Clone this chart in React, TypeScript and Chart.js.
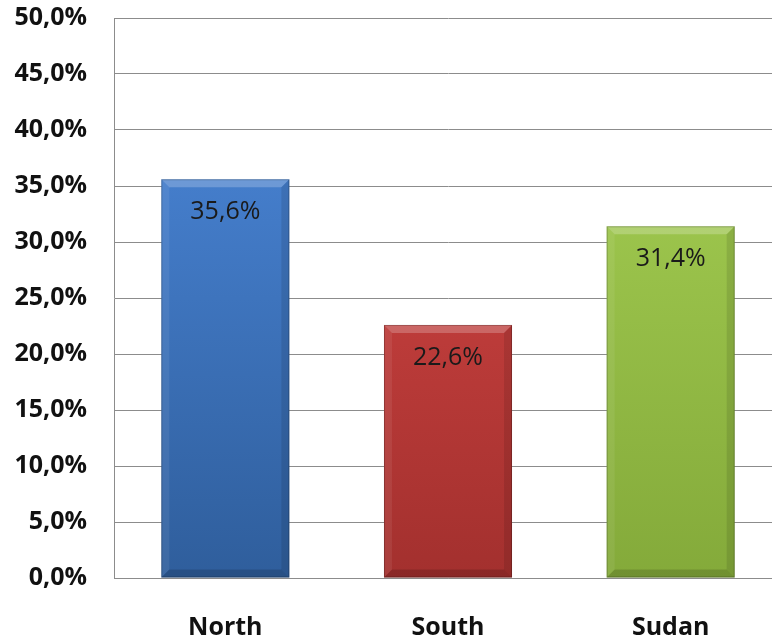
import React, { useEffect, useRef } from "react";
import { Chart, registerables } from "chart.js";

Chart.register(...registerables);

const categories = ["North", "South", "Sudan"];
const values = [35.6, 22.6, 31.4];
const topColors = ["#4d8ade", "#dc4a48", "#a9d356"];
const bottomColors = ["#2f5e9c", "#a3302e", "#84aa3a"];
const yTicks = [0, 5, 10, 15, 20, 25, 30, 35, 40, 45, 50];

const fmt = (v: number) => v.toFixed(1).replace(".", ",") + "%";

const bevelPlugin = {
  id: "bevel",
  afterDatasetsDraw(chart: any) {
    const ctx = chart.ctx;
    const meta = chart.getDatasetMeta(0);
    meta.data.forEach((bar: any, i: number) => {
      const { x, y, base, width } = bar.getProps(["x", "y", "base", "width"], true);
      const l = x - width / 2;
      const r = x + width / 2;
      const b = 8;
      ctx.save();
      ctx.fillStyle = "rgba(255,255,255,0.22)";
      ctx.beginPath();
      ctx.moveTo(l, y);
      ctx.lineTo(r, y);
      ctx.lineTo(r - b, y + b);
      ctx.lineTo(l + b, y + b);
      ctx.closePath();
      ctx.fill();
      ctx.fillStyle = "rgba(255,255,255,0.07)";
      ctx.beginPath();
      ctx.moveTo(l, y);
      ctx.lineTo(l + b, y + b);
      ctx.lineTo(l + b, base - b);
      ctx.lineTo(l, base);
      ctx.closePath();
      ctx.fill();
      ctx.fillStyle = "rgba(0,0,0,0.10)";
      ctx.beginPath();
      ctx.moveTo(r, y);
      ctx.lineTo(r - b, y + b);
      ctx.lineTo(r - b, base - b);
      ctx.lineTo(r, base);
      ctx.closePath();
      ctx.fill();
      ctx.fillStyle = "rgba(0,0,0,0.15)";
      ctx.beginPath();
      ctx.moveTo(l, base);
      ctx.lineTo(l + b, base - b);
      ctx.lineTo(r - b, base - b);
      ctx.lineTo(r, base);
      ctx.closePath();
      ctx.fill();
      ctx.strokeStyle = "rgba(0,0,0,0.22)";
      ctx.lineWidth = 1;
      ctx.strokeRect(l + 0.5, y + 0.5, width - 1, base - y - 1);
      ctx.fillStyle = "#1a1a1a";
      ctx.font = "25px 'Open Sans', sans-serif";
      ctx.textAlign = "center";
      ctx.textBaseline = "middle";
      ctx.fillText(fmt(values[i]), x, y + 33);
      ctx.restore();
    });
  },
};

export default function App() {
  const ref = useRef<HTMLCanvasElement>(null);
  useEffect(() => {
    const canvas = ref.current!;
    const chart = new Chart(canvas, {
      type: "bar",
      data: {
        labels: categories,
        datasets: [
          {
            data: values,
            backgroundColor: (c: any) => {
              const ca = c.chart.chartArea;
              if (!ca) return topColors[c.dataIndex];
              const g = c.chart.ctx.createLinearGradient(0, ca.top, 0, ca.bottom);
              g.addColorStop(0, topColors[c.dataIndex]);
              g.addColorStop(1, bottomColors[c.dataIndex]);
              return g;
            },
            borderWidth: 0,
            categoryPercentage: 1,
            barPercentage: 0.575,
          },
        ],
      },
      options: {
        animation: false,
        responsive: false,
        layout: { padding: { top: 18, right: 0, left: 0, bottom: 0 } },
        plugins: { legend: { display: false }, tooltip: { enabled: false } },
        scales: {
          x: {
            grid: { display: false, drawTicks: false },
            border: { color: "#8c8c8c", width: 1 },
            ticks: {
              color: "#111",
              padding: 35,
              font: { family: "'Open Sans', sans-serif", size: 25, weight: "bold" },
            },
            afterFit: (s: any) => {
              s.height = 60;
              s.paddingLeft = 0;
              s.paddingRight = 0;
            },
          },
          y: {
            min: 0,
            max: 50,
            afterBuildTicks: (s: any) => { s.ticks = yTicks.map((v) => ({ value: v })); },
            grid: { color: "#8c8c8c", lineWidth: 1, drawTicks: false },
            border: { color: "#8c8c8c", width: 1 },
            ticks: {
              color: "#111",
              padding: 27,
              callback: (v: any) => fmt(Number(v)),
              font: { family: "'Open Sans', sans-serif", size: 25, weight: "bold" },
            },
            afterFit: (s: any) => {
              s.width = 114;
              s.paddingTop = 0;
              s.paddingBottom = 0;
            },
          },
        },
      },
      plugins: [bevelPlugin],
    });
    return () => chart.destroy();
  }, []);
  return (
    <div style={{ position: "fixed", left: 0, top: 0, width: 772, height: 638, background: "#fff", overflow: "hidden" }}>
      <canvas ref={ref} width={782} height={638} style={{ display: "block" }} />
    </div>
  );
}
